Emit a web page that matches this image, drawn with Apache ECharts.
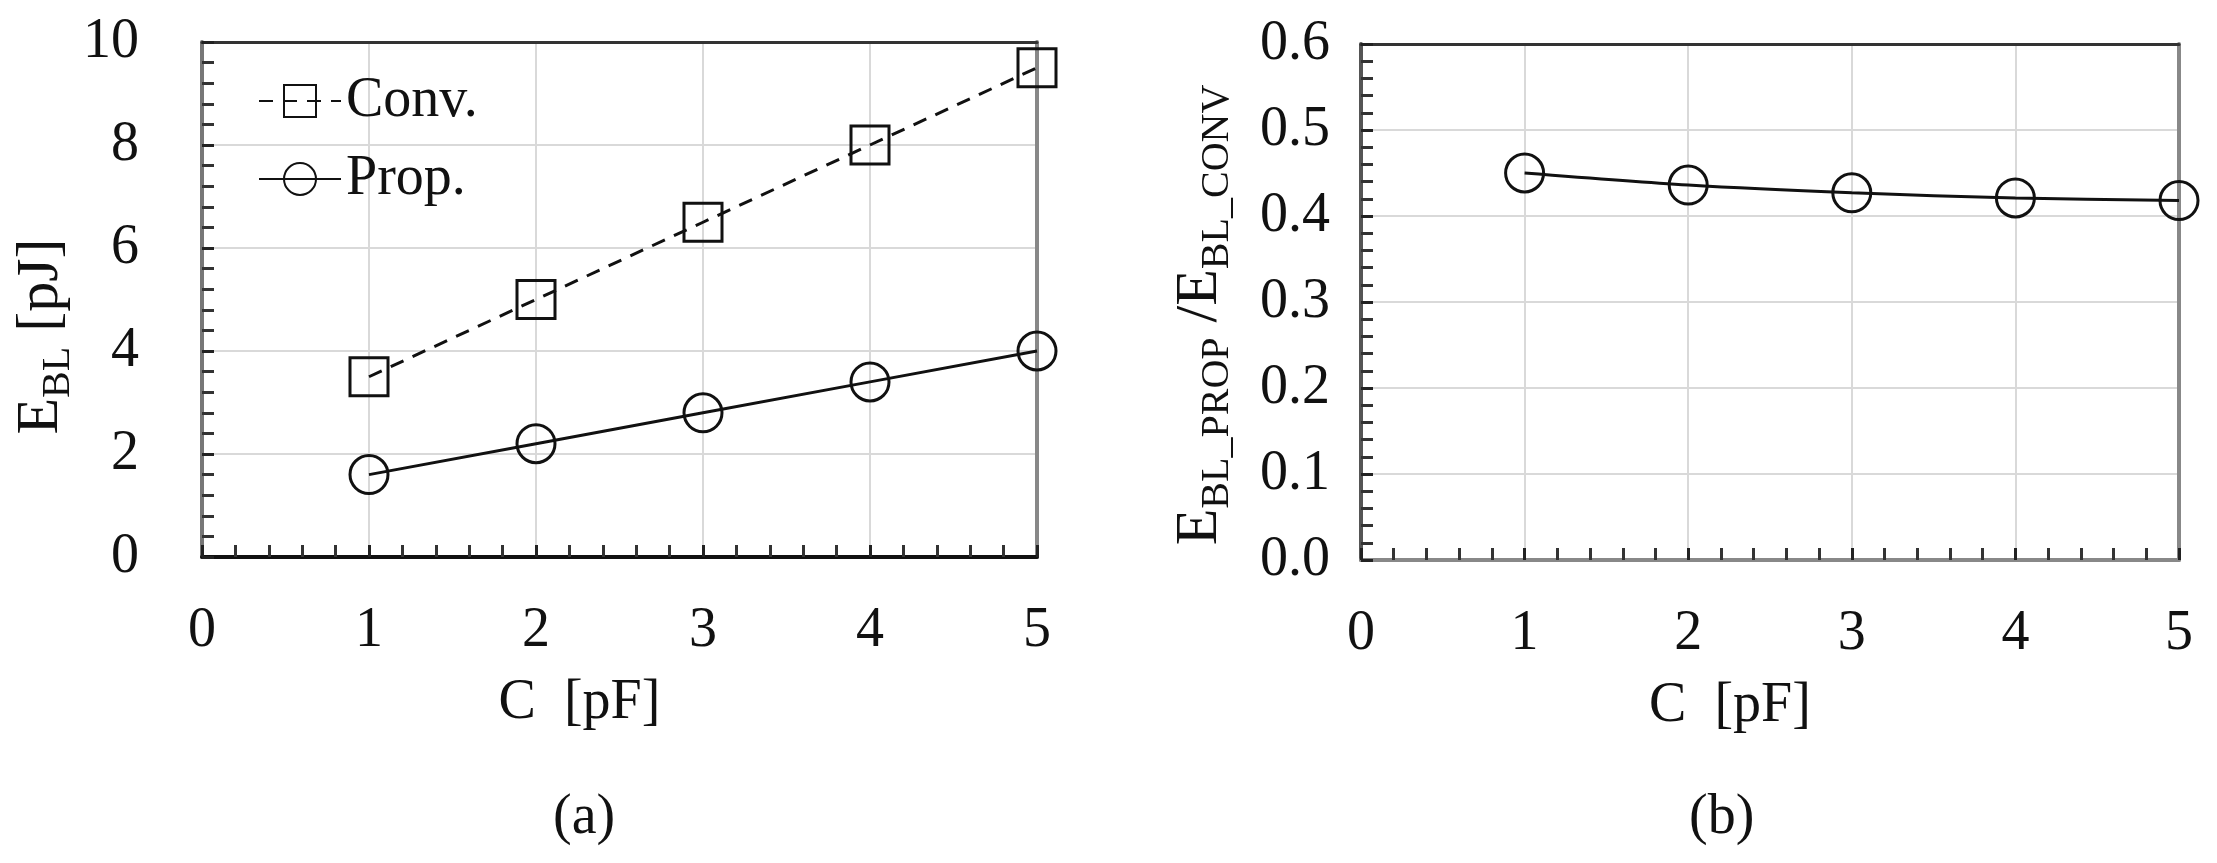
<!DOCTYPE html>
<html>
<head>
<meta charset="utf-8">
<script src="https://cdn.jsdelivr.net/npm/echarts@6/dist/echarts.min.js"></script>
<style>
  html, body { margin: 0; padding: 0; background: #fff; }
  #chart { width: 2217px; height: 863px; }
</style>
</head>
<body>
<div id="chart"></div>
<script>
'use strict';

// data
const capValues = [1, 2, 3, 4, 5];              // C [pF]
const convEnergy = [3.5, 5.0, 6.5, 8.0, 9.5];   // E_BL conventional [pJ]
const propEnergy = [1.6, 2.2, 2.8, 3.4, 4.0];   // E_BL proposed [pJ]
const energyRatio = [0.450, 0.436, 0.427, 0.421, 0.418];
const seriesNames = ['Conv.', 'Prop.'];
const panelLabels = ['(a)', '(b)'];

const FONT = "'Liberation Serif', 'Times New Roman', serif";
const INK = '#111';

let pairs = function (ys) {
    return capValues.map(function (c, i) { return [c, ys[i]]; });
};

let myChart = echarts.init(document.getElementById('chart'));

// common pieces
let frameAxis = function (grid, pos, lo, hi, color, width) {
    return {
        type: 'value', gridIndex: grid, position: pos, min: lo, max: hi,
        axisLine: { show: true, onZero: false, lineStyle: { color: color, width: width } },
        axisTick: { show: false }, axisLabel: { show: false },
        splitLine: { show: false }, minorTick: { show: false }
    };
};
let tickStyle = { show: true, inside: true, length: 12, lineStyle: { color: '#222', width: 3 } };
let minorStyle = { show: true, splitNumber: 5, length: 12, lineStyle: { color: '#333', width: 3 } };
let gridLine = { show: true, lineStyle: { color: '#d9d9d9', width: 2 } };
let labelStyle = { color: INK, fontFamily: FONT, fontSize: 56 };

let xBottom = function (grid, axisColor) {
    return {
        type: 'value', gridIndex: grid, position: 'bottom', min: 0, max: 5, interval: 1,
        name: 'C  [pF]', nameLocation: 'middle', nameGap: 118,
        nameTextStyle: { color: INK, fontFamily: FONT, fontSize: 56, padding: [0, 80, 0, 0] },
        axisLine: { show: true, onZero: false, lineStyle: { color: axisColor, width: 4 } },
        axisTick: tickStyle, minorTick: minorStyle,
        axisLabel: Object.assign({ margin: 46 }, labelStyle),
        splitLine: gridLine
    };
};

let option = {
    animation: false,
    backgroundColor: '#fff',
    grid: [
        { left: 202, top: 42, width: 835, height: 515 },
        { left: 1361, top: 44, width: 818, height: 516 }
    ],
    legend: {
        left: 253, top: 68, orient: 'vertical',
        itemWidth: 82, itemHeight: 40, itemGap: 22,
        textStyle: { color: INK, fontFamily: FONT, fontSize: 56 },
        data: seriesNames
    },
    xAxis: [
        xBottom(0, '#111'),
        frameAxis(0, 'top', 0, 5, '#333', 3),
        xBottom(1, '#888'),
        frameAxis(1, 'top', 0, 5, '#333', 3)
    ],
    yAxis: [
        {
            type: 'value', gridIndex: 0, position: 'left', min: 0, max: 10, interval: 2,
            name: '{e|E}{s|BL}{e| [pJ]}', nameLocation: 'middle', nameGap: 124,
            nameTextStyle: {
                color: INK, fontFamily: FONT, padding: [0, 74, 0, 0],
                rich: {
                    e: { fontFamily: FONT, fontSize: 60, color: INK },
                    s: { fontFamily: FONT, fontSize: 40, color: INK, padding: [34, 0, 0, 0] }
                }
            },
            axisLine: { show: true, onZero: false, lineStyle: { color: '#777', width: 4 } },
            axisTick: tickStyle, minorTick: minorStyle,
            axisLabel: Object.assign({ margin: 63 }, labelStyle),
            splitLine: gridLine
        },
        frameAxis(0, 'right', 0, 10, '#888', 4),
        {
            type: 'value', gridIndex: 1, position: 'left', min: 0, max: 0.6, interval: 0.1,
            name: '{e|E}{s|BL_PROP}{e| /E}{s|BL_CONV}', nameLocation: 'middle', nameGap: 124,
            nameTextStyle: {
                color: INK, fontFamily: FONT, padding: [0, 26, 0, 0],
                rich: {
                    e: { fontFamily: FONT, fontSize: 60, color: INK },
                    s: { fontFamily: FONT, fontSize: 40, color: INK, padding: [34, 0, 0, 0] }
                }
            },
            axisLine: { show: true, onZero: false, lineStyle: { color: '#555', width: 4 } },
            axisTick: tickStyle, minorTick: minorStyle,
            axisLabel: Object.assign({ margin: 31, formatter: function (v) { return v.toFixed(1); } }, labelStyle),
            splitLine: gridLine
        },
        frameAxis(1, 'right', 0, 0.6, '#888', 4)
    ],
    graphic: [
        { type: 'text', left: 581 - 28, top: 790, style: { text: panelLabels[0], font: '56px ' + FONT, fill: INK } },
        { type: 'text', left: 1717 - 28, top: 790, style: { text: panelLabels[1], font: '56px ' + FONT, fill: INK } }
    ],
    series: [
        {
            name: seriesNames[0], type: 'line', xAxisIndex: 0, yAxisIndex: 0,
            data: pairs(convEnergy),
            symbol: 'rect', symbolSize: 38,
            lineStyle: { color: INK, width: 3, type: [14, 10] },
            itemStyle: { color: 'rgba(255,255,255,0)', borderColor: INK, borderWidth: 3 }
        },
        {
            name: seriesNames[1], type: 'line', xAxisIndex: 0, yAxisIndex: 0,
            data: pairs(propEnergy),
            symbol: 'circle', symbolSize: 38,
            lineStyle: { color: INK, width: 3 },
            itemStyle: { color: 'rgba(255,255,255,0)', borderColor: INK, borderWidth: 3 }
        },
        {
            name: 'ratio', type: 'line', xAxisIndex: 2, yAxisIndex: 2,
            data: pairs(energyRatio), smooth: 0.3,
            symbol: 'circle', symbolSize: 38,
            lineStyle: { color: INK, width: 3 },
            itemStyle: { color: 'rgba(255,255,255,0)', borderColor: INK, borderWidth: 3 }
        }
    ]
};

myChart.setOption(option);
</script>
</body>
</html>
